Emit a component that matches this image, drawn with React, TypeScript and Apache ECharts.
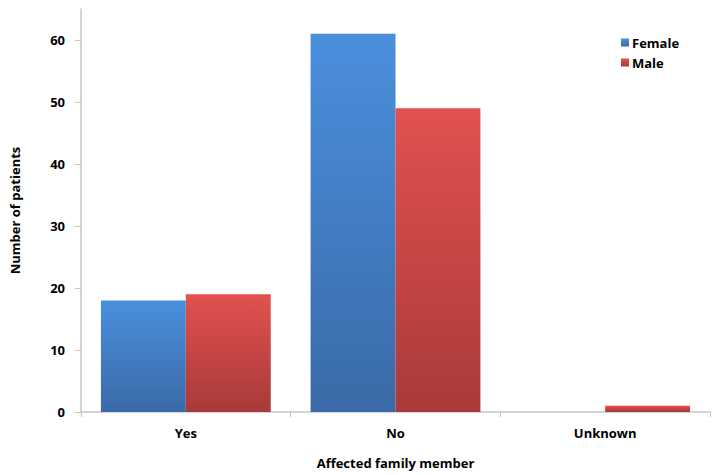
import React, { useEffect, useRef } from "react";
import * as echarts from "echarts";

const categories = ["Yes", "No", "Unknown"];
const femaleCounts = [18, 61, 0];
const maleCounts = [19, 49, 1];
const yTicks = [0, 10, 20, 30, 40, 50, 60];

const FONT = "'Open Sans', 'DejaVu Sans', sans-serif";

const grad = (top: string, bottom: string) =>
  new echarts.graphic.LinearGradient(0, 0, 0, 1, [
    { offset: 0, color: top },
    { offset: 1, color: bottom },
  ]);

export default function App() {
  const ref = useRef<HTMLDivElement>(null);

  useEffect(() => {
    if (!ref.current) return;
    const chart = echarts.init(ref.current, null, { renderer: "svg" });
    const axisLine = { show: true, lineStyle: { color: "#c6c6c6", width: 1.5 } };
    chart.setOption({
      animation: false,
      backgroundColor: "#ffffff",
      textStyle: { fontFamily: FONT },
      grid: { left: 80, right: 8, top: 9, bottom: 63 },
      legend: {
        data: ["Female", "Male"],
        orient: "vertical",
        left: 616,
        top: 31,
        itemWidth: 8,
        itemHeight: 8,
        itemGap: 7,
        icon: "rect",
        textStyle: { fontFamily: FONT, fontSize: 13, fontWeight: "bold", color: "#000", padding: [0, 0, 0, -2] },
      },
      xAxis: {
        type: "category",
        data: categories,
        name: "Affected family member",
        nameLocation: "middle",
        nameGap: 44,
        nameTextStyle: { fontFamily: FONT, fontSize: 13, fontWeight: "bold", color: "#000" },
        axisLine,
        axisTick: { show: true, length: 5, lineStyle: { color: "#c6c6c6" } },
        axisLabel: { fontFamily: FONT, fontSize: 13, fontWeight: "bold", color: "#000", margin: 14 },
      },
      yAxis: {
        type: "value",
        min: 0,
        max: 65,
        name: "Number of patients",
        nameLocation: "middle",
        nameGap: 60,
        nameTextStyle: { fontFamily: FONT, fontSize: 13, fontWeight: "bold", color: "#000" },
        axisLine,
        splitLine: { show: false },
        axisTick: { show: true, length: 6, customValues: yTicks, lineStyle: { color: "#c6c6c6" } },
        axisLabel: { fontFamily: FONT, fontSize: 13, fontWeight: "bold", color: "#000", margin: 16, customValues: yTicks },
      },
      series: [
        {
          name: "Female",
          type: "bar",
          data: femaleCounts,
          barGap: "0%",
          barCategoryGap: "19%",
          itemStyle: {
            color: grad("#4b8fdd", "#3a6aa7"),
            borderWidth: 0,
          },
        },
        {
          name: "Male",
          type: "bar",
          data: maleCounts,
          itemStyle: {
            color: grad("#e1514f", "#a83a39"),
            borderWidth: 0,
          },
        },
      ],
    });
    return () => chart.dispose();
  }, []);

  return <div ref={ref} style={{ width: 718, height: 475, position: "absolute", left: 0, top: 0 }} />;
}
